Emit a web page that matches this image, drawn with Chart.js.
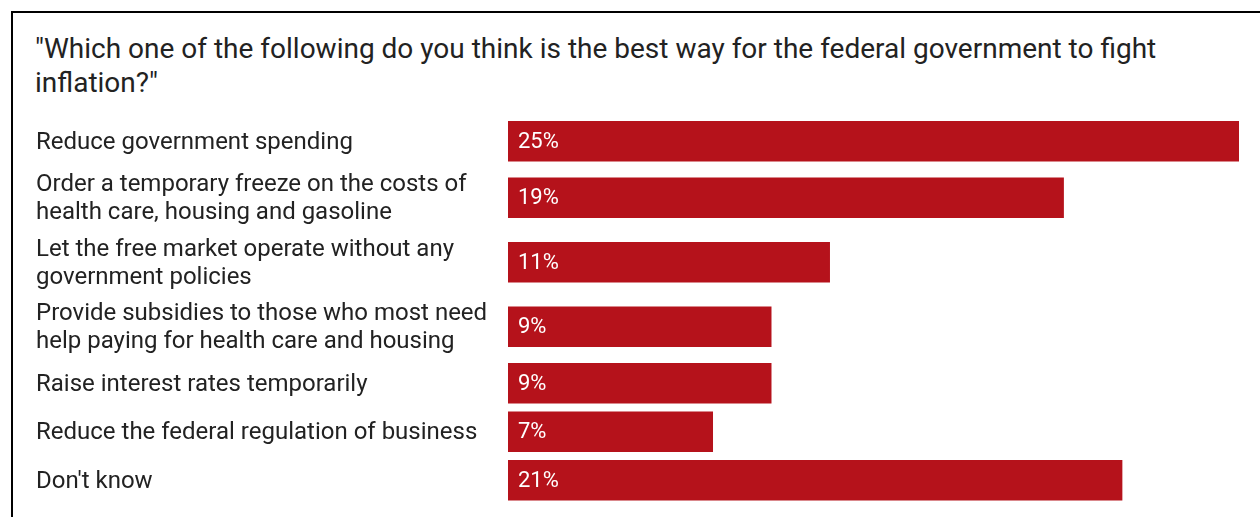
<!DOCTYPE html>
<html>
<head>
<meta charset="utf-8">
<script src="https://cdn.jsdelivr.net/npm/chart.js@4/dist/chart.umd.min.js"></script>
<style>
  html, body { margin: 0; padding: 0; background: #fff; overflow: hidden; }
  #wrap { position: relative; width: 1260px; height: 517px; }
  #frame { position: absolute; left: 11px; top: 11px; width: 1300px; height: 600px; border: 2px solid #000; box-sizing: border-box; pointer-events: none; }
  #title { position: absolute; left: 35px; top: 32px; width: 1180px; font-family: Roboto, sans-serif; font-size: 28px; line-height: 33.5px; color: #222; }
  canvas { position: absolute; left: 0; top: 0; }
</style>
</head>
<body>
<div id="wrap">
  <div id="title">"Which one of the following do you think is the best way for the federal government to fight inflation?"</div>
  <canvas id="c" width="1260" height="517"></canvas>
  <div id="frame"></div>
</div>
<script>
const categories = [
  ["Reduce government spending"],
  ["Order a temporary freeze on the costs of", "health care, housing and gasoline"],
  ["Let the free market operate without any", "government policies"],
  ["Provide subsidies to those who most need", "help paying for health care and housing"],
  ["Raise interest rates temporarily"],
  ["Reduce the federal regulation of business"],
  ["Don't know"]
];
const values = [25, 19, 11, 9, 9, 7, 21];
const valueLabels = ["25%", "19%", "11%", "9%", "9%", "7%", "21%"];

// Row layout: each row is tall enough for its wrapped label
const ROW_ONE_LINE = 48.5, ROW_EXTRA_LINE = 16;
const rowHeights = categories.map(l => ROW_ONE_LINE + (l.length - 1) * ROW_EXTRA_LINE);
const centers = [];
let acc = 0;
rowHeights.forEach(h => { centers.push(acc + h / 2); acc += h; });
const total = acc;
const LABEL_NUDGE = 1.5;

const valueLabelPlugin = {
  id: 'valueLabels',
  afterDatasetsDraw(chart) {
    const ctx = chart.ctx;
    const meta = chart.getDatasetMeta(0);
    ctx.save();
    ctx.fillStyle = '#fff';
    ctx.font = '22px Roboto, sans-serif';
    ctx.textAlign = 'left';
    ctx.textBaseline = 'middle';
    meta.data.forEach((bar, i) => {
      ctx.fillText(valueLabels[i], bar.base + 10, bar.y + 1);
    });
    ctx.restore();
  }
};

new Chart(document.getElementById('c'), {
  type: 'bar',
  data: {
    datasets: [{
      data: values.map((v, i) => ({ x: v, y: centers[i] })),
      backgroundColor: '#b5121b',
      borderWidth: 0,
      barThickness: 40
    }]
  },
  options: {
    indexAxis: 'y',
    responsive: false,
    animation: false,
    layout: { padding: { left: 36, right: 21, top: 117, bottom: 517 - 117 - total } },
    plugins: { legend: { display: false }, tooltip: { enabled: false }, title: { display: false } },
    scales: {
      x: { type: 'linear', min: 0, max: 25, display: false },
      y: {
        type: 'linear',
        reverse: true,
        offset: false,
        min: 0,
        max: total,
        grid: { display: false, drawTicks: false, offset: false },
        border: { display: false },
        afterBuildTicks(scale) { scale.ticks = centers.map(v => ({ value: v + LABEL_NUDGE })); },
        afterFit(scale) { scale.width = 472; scale.paddingTop = 0; scale.paddingBottom = 0; },
        ticks: {
          crossAlign: 'far',
          padding: 0,
          color: '#222',
          font: { family: 'Roboto, sans-serif', size: 24, lineHeight: 1.15 },
          autoSkip: false,
          callback(value, index) { return categories[index]; }
        }
      }
    }
  },
  plugins: [valueLabelPlugin]
});
</script>
</body>
</html>
